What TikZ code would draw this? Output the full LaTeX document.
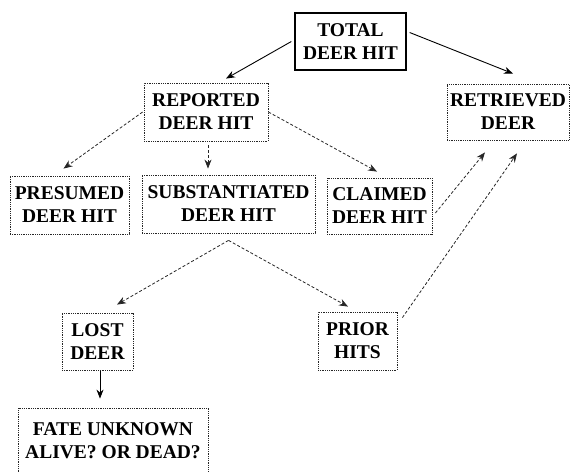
\documentclass[tikz,border=0pt]{standalone}
\usepackage{fontspec}
\setmainfont{Liberation Serif}
\newfontfamily\boxfont{Liberation Serif}[BoldFont={* Bold}]
\usetikzlibrary{arrows.meta}
\tikzset{
  box/.style={draw=black!85, densely dotted, line width=0.8pt, inner sep=0pt, align=center,
    font=\boxfont\bfseries\fontsize{19.5}{23}\selectfont},
  mainbox/.style={box, solid, draw=black, line width=1.3pt},
  solidarrow/.style={draw=black, line width=0.9pt, -{Stealth[length=9pt,width=7pt]}},
  dasharrow/.style={draw=black!85, line width=0.8pt, dash pattern=on 3pt off 2pt, -{Stealth[length=9pt,width=7pt]}},
}
\begin{document}
\begin{tikzpicture}[x=1pt,y=-1pt]
\useasboundingbox (0,0) rectangle (570,471);
\clip (0,0) rectangle (570,471);
\node[mainbox, minimum width=111pt, minimum height=57pt] (total) at (350.5,41.5) {TOTAL\\DEER HIT};
\node[box, minimum width=124pt, minimum height=58pt] (reported) at (206,112) {REPORTED\\DEER HIT};
\node[box, minimum width=122pt, minimum height=56pt] (retrieved) at (508,112) {RETRIEVED\\DEER};
\node[box, minimum width=119pt, minimum height=58pt] (presumed) at (69.5,205) {PRESUMED\\DEER HIT};
\node[box, minimum width=173pt, minimum height=58pt] (subst) at (228.5,204) {SUBSTANTIATED\\DEER HIT};
\node[box, minimum width=105pt, minimum height=56pt] (claimed) at (379.5,206) {CLAIMED\\DEER HIT};
\node[box, minimum width=71pt, minimum height=57pt] (lost) at (97.5,341.5) {LOST\\DEER};
\node[box, minimum width=79pt, minimum height=58pt] (prior) at (357.5,341) {PRIOR\\HITS};
\node[box, minimum width=190pt, minimum height=66pt] (fate) at (113,441) {FATE UNKNOWN\\ALIVE? OR DEAD?};

\coordinate (apex) at ([yshift=-7pt]subst.south);

\draw[solidarrow] ([xshift=-3pt]total.west) -- ([xshift=20pt,yshift=4pt]reported.north);
\draw[solidarrow] ([xshift=3pt,yshift=9pt]total.east) -- ([xshift=5pt,yshift=10pt]retrieved.north);
\draw[dasharrow] ([xshift=-1pt]reported.west) -- ([xshift=-6pt,yshift=7pt]presumed.north);
\draw[dasharrow] ([xshift=2pt,yshift=-4pt]reported.south) -- ([xshift=-20.5pt,yshift=6pt]subst.north);
\draw[dasharrow] (reported.east) -- ([xshift=-2.5pt,yshift=6pt]claimed.north);
\draw[dasharrow] ([xshift=3pt,yshift=-7pt]claimed.east) -- ([xshift=-23pt,yshift=-12pt]retrieved.south);
\draw[dasharrow] ([xshift=5pt,yshift=-6pt]prior.north east) -- ([xshift=9pt,yshift=-13pt]retrieved.south);
\draw[dasharrow] (apex) -- ([xshift=19.5pt,yshift=8pt]lost.north);
\draw[dasharrow] (apex) -- ([xshift=-9.5pt,yshift=5pt]prior.north);
\draw[solidarrow] ([xshift=2.5pt,yshift=-1pt]lost.south) -- ([xshift=-13pt,yshift=9pt]fate.north);
\end{tikzpicture}
\end{document}
